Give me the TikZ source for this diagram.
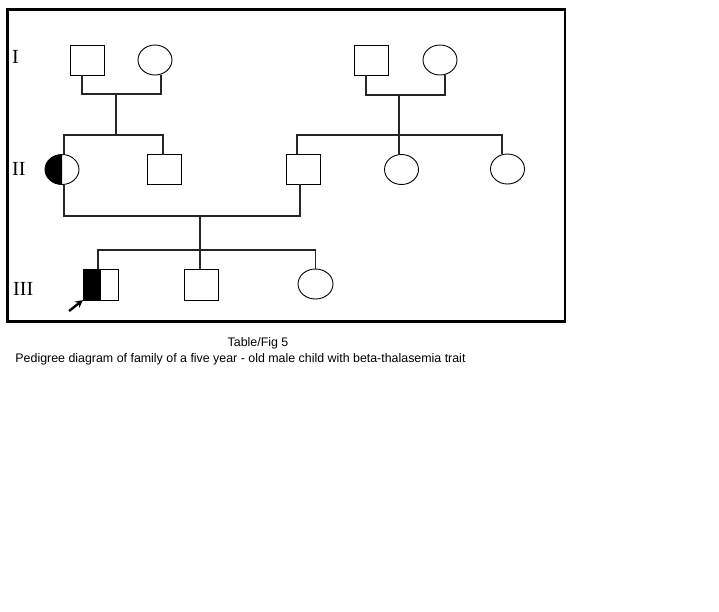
\documentclass[tikz,border=0pt]{standalone}
\usepackage{fontspec}
\setmainfont{Liberation Serif}
\newfontfamily\capfont{Liberation Sans}
\usetikzlibrary{shapes.geometric}
\begin{document}
\begin{tikzpicture}[x=1pt, y=-1pt,
  male/.style = {rectangle, draw, line width=0.9pt, minimum width=34pt, minimum height=30pt, inner sep=0pt, outer sep=0pt},
  female/.style = {ellipse, draw, line width=0.9pt, minimum width=34pt, minimum height=30pt, inner sep=0pt, outer sep=0pt},
  link/.style = {draw=black!85, line width=1.1pt},
  gen/.style = {anchor=base west, inner sep=0pt, font=\fontsize{20}{20}\selectfont}]
\useasboundingbox (0,0) rectangle (719,611);
\draw[line width=2.6pt] (7.5,9.5) rectangle (565,321.5);
% generation labels
\node[gen] (lI) at (12,63) {I};
\node[gen] (lII) at (12,175) {II};
\node[gen] (lIII) at (13,295) {III};
% generation I
\node (gI1) at (87,60) [male]{};
\node (gI2) at (155,60) [female]{};
\node (gI3) at (371,60) [male]{};
\node (gI4) at (440,60) [female]{};
% generation II
\node (gII1) at (62,169.5) [female]{};
\fill (gII1.north) arc[start angle=-90, end angle=-270, x radius=17, y radius=15] -- cycle;
\node (gII2) at (164,169.5) [male]{};
\node (gII3) at (303.5,169) [male]{};
\node (gII4) at (401.5,169.5) [female]{};
\node (gII5) at (507.5,169) [female]{};
% generation III
\node (gIII1) at (100.5,284.5) [male, minimum width=35pt, minimum height=31pt]{};
\fill (gIII1.north west) rectangle (gIII1.south);
\node (gIII2) at (201,284.5) [male, minimum height=31pt]{};
\node (gIII3) at (315.5,284) [female, minimum width=35pt]{};
% marriages and sibships
\coordinate (mA) at (116,94);
\coordinate (mB) at (399,95);
\coordinate (mC) at (200,216);
\draw[link] ([xshift=-5pt]gI1.south) |- (mA) -| ([xshift=6pt]gI2.south);
\draw[link] (mA) -- (116,135);
\draw[link] ([xshift=2pt]gII1.north) |- (116,135) -| ([xshift=-1pt]gII2.north);
\draw[link] ([xshift=-5pt]gI3.south) |- (mB) -| ([xshift=5pt]gI4.south);
\draw[link] (mB) -- (399,135);
\draw[link] ([xshift=-6.5pt]gII3.north) |- (399,135) -| ([xshift=-5.5pt]gII5.north);
\draw[link] (399,135) -- ([xshift=-2.5pt]gII4.north);
\draw[link] ([xshift=2pt]gII1.south) |- (mC) -| ([xshift=-3.5pt]gII3.south);
\draw[link] (mC) -- (200,250);
\draw[link] ([xshift=-2.5pt]gIII1.north) |- (200,250) -| (gIII3.north);
\draw[link] (200,250) -- ([xshift=-1pt]gIII2.north);
% proband arrow
\coordinate (pA) at (69,311);
\draw[-stealth, line width=2.4pt] (pA) -- (gIII1.south west);
% caption
\node[font=\capfont\fontsize{12.4}{13}\selectfont, anchor=base, inner sep=0pt] (cap1) at (258,346) {Table/Fig 5};
\node[font=\capfont\fontsize{12.4}{13}\selectfont, anchor=base, inner sep=0pt] (cap2) at (240.5,362) {Pedigree diagram of family of a five year - old male child with beta-thalasemia trait};
\end{tikzpicture}
\end{document}
